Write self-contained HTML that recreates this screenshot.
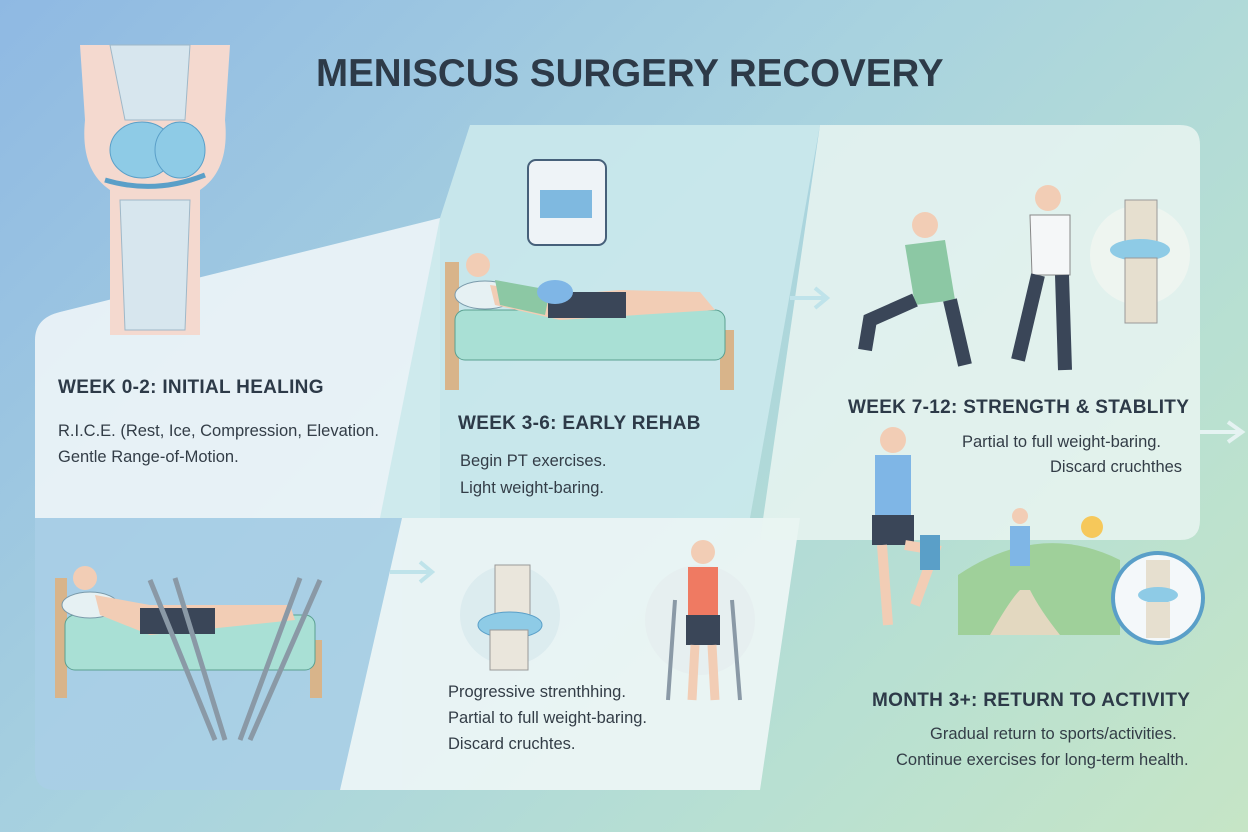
<!DOCTYPE html>
<html><head><meta charset="utf-8"><style>
html,body{margin:0;padding:0}
body{width:1248px;height:832px;overflow:hidden;position:relative;font-family:"Liberation Sans",sans-serif;background:linear-gradient(135deg,#8fb9e3 0%,#a9d3df 45%,#b8e0d2 75%,#c6e5c6 100%);}
svg{position:absolute;left:0;top:0}
.t{position:absolute;color:#2d3a48;white-space:nowrap}
.h{font-weight:bold;font-size:19px;letter-spacing:.3px}
.p{font-size:16.5px;color:#333d47}
</style></head><body>
<svg width="1248" height="832" viewBox="0 0 1248 832">
<path d="M60 312 L440 218 L440 518 L35 518 L35 340 Q35 318 60 312Z" fill="#eef5f8" opacity=".9"/>
<path d="M35 518 L402 518 L402 790 L55 790 Q35 790 35 770Z" fill="#a9cfe6" opacity=".85"/>
<path d="M470 125 L820 125 L750 518 L380 518 L440 218Z" fill="#cbe9ec" opacity=".9"/>
<path d="M402 518 L800 518 L760 790 L340 790Z" fill="#eef6f6" opacity=".9"/>
<path d="M840 125 L1180 125 Q1200 125 1200 145 L1200 520 Q1200 540 1180 540 L760 540 L820 125Z" fill="#e9f4f1" opacity=".85"/>
<path d="M80 45 L230 45 L225 120 Q230 170 200 190 L200 335 L110 335 L110 190 Q80 170 85 120Z" fill="#f4d9cf"/>
<path d="M110 45 L190 45 L185 120 L125 120Z" fill="#d7e6ee" stroke="#9fb8c8"/>
<path d="M120 200 L190 200 L185 330 L125 330Z" fill="#d7e6ee" stroke="#9fb8c8"/>
<ellipse cx="142" cy="150" rx="32" ry="28" fill="#8ecbe6" stroke="#5a9fc8"/>
<ellipse cx="180" cy="150" rx="25" ry="28" fill="#8ecbe6" stroke="#5a9fc8"/>
<path d="M105 180 Q155 195 205 175" stroke="#5a9fc8" stroke-width="5" fill="none"/>
<rect x="528" y="160" width="78" height="85" rx="8" fill="#eef3f7" stroke="#46607a" stroke-width="2"/>
<rect x="540" y="190" width="52" height="28" fill="#7fb9e0"/>
<rect x="445" y="262" width="14" height="128" fill="#d8b48a"/>
<rect x="720" y="330" width="14" height="60" fill="#d8b48a"/>
<rect x="455" y="310" width="270" height="50" rx="10" fill="#a9e0d5" stroke="#5aa090"/>
<ellipse cx="485" cy="295" rx="30" ry="14" fill="#e6f1f3" stroke="#7a9aaa"/>
<path d="M490 285 L560 295 L620 290 L700 292 L715 310 L560 320 L495 305Z" fill="#f2cdb5"/>
<path d="M495 280 L550 290 L545 315 L500 305Z" fill="#8cc8a4"/>
<rect x="548" y="292" width="78" height="26" fill="#3a4658"/>
<circle cx="478" cy="265" r="12" fill="#f2cdb5"/>
<ellipse cx="555" cy="292" rx="18" ry="12" fill="#7fb6e6"/>
<rect x="55" y="578" width="12" height="120" fill="#d8b48a"/>
<rect x="310" y="640" width="12" height="58" fill="#d8b48a"/>
<rect x="65" y="615" width="250" height="55" rx="10" fill="#a9e0d5" stroke="#5aa090"/>
<ellipse cx="90" cy="605" rx="28" ry="13" fill="#e6f1f3" stroke="#7a9aaa"/>
<path d="M95 595 L150 605 L290 605 L295 620 L150 635 L100 615Z" fill="#f2cdb5"/>
<rect x="140" y="608" width="75" height="26" fill="#3a4658"/>
<circle cx="85" cy="578" r="12" fill="#f2cdb5"/>
<path d="M150 580 L215 740 M175 578 L225 740 M300 578 L240 740 M320 580 L250 740" stroke="#8a99a6" stroke-width="5"/>
<path d="M390 572 L430 572 M420 562 L432 572 L420 582" stroke="#bfe3ea" stroke-width="4" fill="none"/>
<path d="M790 298 L825 298 M815 288 L827 298 L815 308" stroke="#bfe3ea" stroke-width="4" fill="none"/>
<path d="M1200 432 L1240 432 M1228 422 L1242 432 L1228 442" stroke="#e5f3f2" stroke-width="4" fill="none"/>
<circle cx="510" cy="615" r="50" fill="#dcecef"/>
<rect x="495" y="565" width="35" height="55" fill="#eae6dc" stroke="#999"/>
<ellipse cx="510" cy="625" rx="32" ry="13" fill="#8ecbe6" stroke="#5a9fc8"/>
<rect x="490" y="630" width="38" height="40" fill="#eae6dc" stroke="#999"/>
<circle cx="700" cy="620" r="55" fill="#e6eff0"/>
<circle cx="703" cy="552" r="12" fill="#f2cdb5"/>
<rect x="688" y="567" width="30" height="50" fill="#ef7a62"/>
<rect x="686" y="615" width="34" height="30" fill="#3a4658"/>
<path d="M695 645 L692 700 M712 645 L715 700" stroke="#f2cdb5" stroke-width="9"/>
<path d="M675 600 L668 700 M732 600 L740 700" stroke="#8a99a6" stroke-width="4"/>
<circle cx="925" cy="225" r="13" fill="#f2cdb5"/>
<path d="M905 245 L945 240 L955 300 L915 305Z" fill="#8cc8a4"/>
<path d="M915 300 L870 320 L865 350 M950 300 L965 365" stroke="#3a4658" stroke-width="14" fill="none"/>
<circle cx="1048" cy="198" r="13" fill="#f2cdb5"/>
<path d="M1030 215 L1070 215 L1070 275 L1032 275Z" fill="#f5f7f8" stroke="#888"/>
<path d="M1038 275 L1018 360 M1062 275 L1065 370" stroke="#3a4658" stroke-width="14" fill="none"/>
<circle cx="1140" cy="255" r="50" fill="#eef5f0"/>
<rect x="1125" y="200" width="32" height="45" fill="#e6dfcf" stroke="#999"/>
<ellipse cx="1140" cy="250" rx="30" ry="11" fill="#8ecbe6"/>
<rect x="1125" y="258" width="32" height="65" fill="#e6dfcf" stroke="#999"/>
<circle cx="893" cy="440" r="13" fill="#f2cdb5"/>
<rect x="875" y="455" width="36" height="62" fill="#7fb6e6"/>
<rect x="872" y="515" width="42" height="30" fill="#3a4658"/>
<path d="M882 545 L888 625 M905 545 L935 550 L915 605" stroke="#f2cdb5" stroke-width="10" fill="none"/>
<rect x="920" y="535" width="20" height="35" fill="#5a9fc8"/>
<path d="M958 575 Q1040 520 1120 560 L1120 635 L958 635Z" fill="#9fd09a"/>
<path d="M990 635 Q1010 600 1020 590 L1030 590 Q1040 610 1060 635Z" fill="#e3d8c0"/>
<circle cx="1092" cy="527" r="11" fill="#f6c85a"/>
<circle cx="1020" cy="516" r="8" fill="#f2cdb5"/>
<rect x="1010" y="526" width="20" height="40" fill="#7fb6e6"/>
<circle cx="1158" cy="598" r="45" fill="#f4f8fa" stroke="#5a9fc8" stroke-width="4"/>
<rect x="1146" y="560" width="24" height="30" fill="#e6dfcf"/>
<ellipse cx="1158" cy="595" rx="20" ry="8" fill="#8ecbe6"/>
<rect x="1146" y="602" width="24" height="36" fill="#e6dfcf"/>
</svg>
<div class="t" style="left:316px;top:52px;font-size:38.5px;font-weight:bold;color:#2d3a48">MENISCUS SURGERY RECOVERY</div>
<div class="t h" style="left:58px;top:377px">WEEK 0-2: INITIAL HEALING</div>
<div class="t p" style="left:58px;top:422px">R.I.C.E. (Rest, Ice, Compression, Elevation.</div>
<div class="t p" style="left:58px;top:448px">Gentle Range-of-Motion.</div>
<div class="t h" style="left:458px;top:413px">WEEK 3-6: EARLY REHAB</div>
<div class="t p" style="left:460px;top:452px">Begin PT exercises.</div>
<div class="t p" style="left:460px;top:479px">Light weight-baring.</div>
<div class="t h" style="left:848px;top:397px">WEEK 7-12: STRENGTH &amp; STABLITY</div>
<div class="t p" style="left:962px;top:433px">Partial to full weight-baring.</div>
<div class="t p" style="left:1050px;top:458px">Discard cruchthes</div>
<div class="t p" style="left:448px;top:683px">Progressive strenthhing.</div>
<div class="t p" style="left:448px;top:709px">Partial to full weight-baring.</div>
<div class="t p" style="left:448px;top:735px">Discard cruchtes.</div>
<div class="t h" style="left:872px;top:690px">MONTH 3+: RETURN TO ACTIVITY</div>
<div class="t p" style="left:930px;top:725px">Gradual return to sports/activities.</div>
<div class="t p" style="left:896px;top:751px">Continue exercises for long-term health.</div>
</body></html>
